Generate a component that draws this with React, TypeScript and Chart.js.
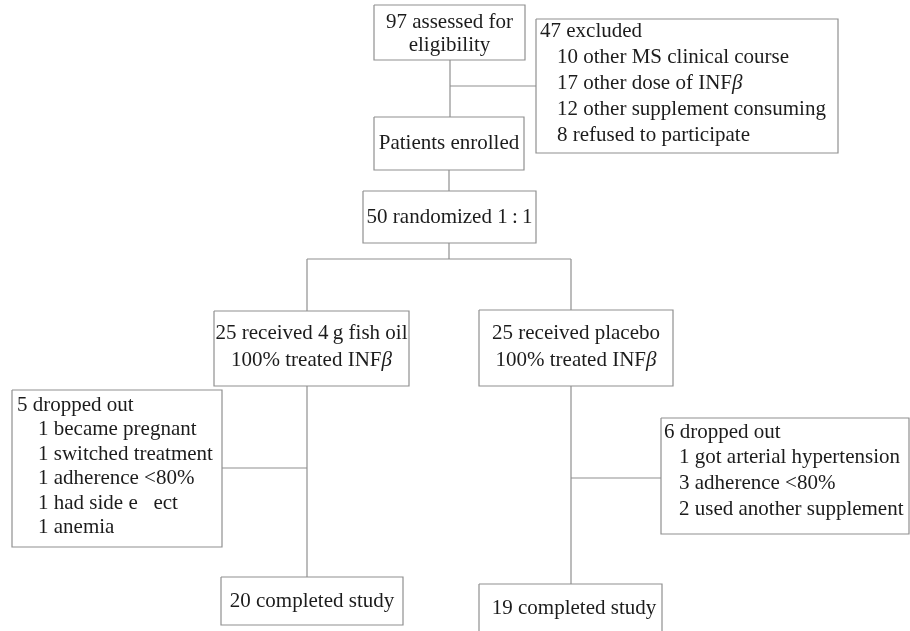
import React, { useEffect, useRef } from "react";
import { Chart, registerables } from "chart.js";

Chart.register(...registerables);

// ---- Flowchart content (texts of each box) ----
const boxTexts: string[][] = [
  ["97 assessed for", "eligibility"],
  ["Patients enrolled"],
  ["47 excluded", "10 other MS clinical course", "17 other dose of INFβ", "12 other supplement consuming", "8 refused to participate"],
  ["50 randomized 1\u2009:\u20091"],
  ["25 received 4\u2009g fish oil", "100% treated INFβ"],
  ["25 received placebo", "100% treated INFβ"],
  ["5 dropped out", "1 became pregnant", "1 switched treatment", "1 adherence <80%", "1 had side e\u2002 ect", "1 anemia"],
  ["20 completed study"],
  ["19 completed study"],
  ["6 dropped out", "1 got arterial hypertension", "3 adherence <80%", "2 used another supplement"],
];

// ---- Layout (diagram units on the hidden scales) ----
// frame: [x0, y0, x1, y1]
const boxFrames: number[][] = [
  [374, 5, 525, 60],
  [374, 117, 524, 170],
  [536, 19, 838, 153],
  [363, 191, 536, 243],
  [214, 311, 409, 386],
  [479, 310, 673, 386],
  [12, 390, 222, 547],
  [221, 577, 403, 625],
  [479, 584, 662, 650],
  [661, 418, 909, 534],
];
// text layout: [align 0=center 1=list, firstX, indentX, firstY, lineStep]
const boxTextLayout: number[][] = [
  [0, 449.5, 449.5, 22, 23],
  [0, 449, 449, 143, 0],
  [1, 540, 557, 31, 26],
  [0, 449.5, 449.5, 217, 0],
  [0, 311.5, 311.5, 333, 27],
  [0, 576, 576, 333, 27],
  [1, 17, 38, 405, 24.5],
  [0, 312, 312, 601, 0],
  [0, 574, 574, 608, 0],
  [1, 664, 679, 432, 25.7],
];
// connectors: [x0, y0, x1, y1]
const connectors: number[][] = [
  [450, 60, 450, 117],
  [450, 86, 536, 86],
  [449, 170, 449, 191],
  [449, 243, 449, 259],
  [307, 259, 571, 259],
  [307, 259, 307, 311],
  [571, 259, 571, 310],
  [307, 386, 307, 577],
  [222, 468, 307, 468],
  [571, 386, 571, 584],
  [571, 478, 661, 478],
];

const FONT_FAMILY = '"Liberation Serif", "Times New Roman", serif';
const FONT_SIZE = 21;
const TEXT_COLOR = "#1c1c1c";
const LINE_COLOR = "#909090";

function drawRich(ctx: CanvasRenderingContext2D, text: string, x: number, y: number, align: "center" | "left") {
  const parts = text.split(/(β)/).filter((p) => p.length > 0);
  const fonts = parts.map((p) => (p === "β" ? `italic ${FONT_SIZE}px ${FONT_FAMILY}` : `${FONT_SIZE}px ${FONT_FAMILY}`));
  let total = 0;
  const widths = parts.map((p, i) => {
    ctx.font = fonts[i];
    const w = ctx.measureText(p).width;
    total += w;
    return w;
  });
  let cx = align === "center" ? x - total / 2 : x;
  ctx.textAlign = "left";
  ctx.textBaseline = "middle";
  parts.forEach((p, i) => {
    ctx.font = fonts[i];
    ctx.fillText(p, cx, y);
    cx += widths[i];
  });
}

const textPlugin = {
  id: "flowText",
  afterDatasetsDraw(chart: any) {
    const ctx: CanvasRenderingContext2D = chart.ctx;
    const xs = chart.scales.x;
    const ys = chart.scales.y;
    ctx.save();
    ctx.fillStyle = TEXT_COLOR;
    boxTexts.forEach((lines, bi) => {
      const [mode, fx, ix, fy, step] = boxTextLayout[bi];
      lines.forEach((line, li) => {
        const dx = mode === 0 ? fx : li === 0 ? fx : ix;
        const dy = fy + li * step;
        drawRich(ctx, line, xs.getPixelForValue(dx), ys.getPixelForValue(dy), mode === 0 ? "center" : "left");
      });
    });
    ctx.restore();
  },
};

export default function App() {
  const ref = useRef<HTMLCanvasElement | null>(null);

  useEffect(() => {
    document.body.style.margin = "0";
    if (!ref.current) return;
    const datasets: any[] = [];
    boxFrames.forEach(([x0, y0, x1, y1]) => {
      datasets.push({
        type: "line",
        data: [
          { x: x0, y: y0 },
          { x: x1, y: y0 },
          { x: x1, y: y1 },
          { x: x0, y: y1 },
          { x: x0, y: y0 },
        ],
        borderColor: LINE_COLOR,
        borderWidth: 1.2,
        pointRadius: 0,
        showLine: true,
        fill: false,
        tension: 0,
      });
    });
    connectors.forEach(([x0, y0, x1, y1]) => {
      datasets.push({
        type: "line",
        data: [
          { x: x0, y: y0 },
          { x: x1, y: y1 },
        ],
        borderColor: LINE_COLOR,
        borderWidth: 1.2,
        pointRadius: 0,
        showLine: true,
        fill: false,
      });
    });
    const chart = new Chart(ref.current, {
      type: "scatter",
      data: { datasets },
      options: {
        animation: false,
        responsive: false,
        maintainAspectRatio: false,
        layout: { padding: 0 },
        plugins: { legend: { display: false }, tooltip: { enabled: false }, title: { display: false } },
        events: [],
        scales: {
          x: { type: "linear", min: 0, max: 910, display: false },
          y: { type: "linear", min: 0, max: 631, reverse: true, display: false },
        },
      },
      plugins: [textPlugin],
    });
    return () => chart.destroy();
  }, []);

  return (
    <div style={{ width: 910, height: 631, background: "#fff" }}>
      <canvas ref={ref} width={910} height={631} style={{ display: "block", width: 910, height: 631 }} />
    </div>
  );
}
